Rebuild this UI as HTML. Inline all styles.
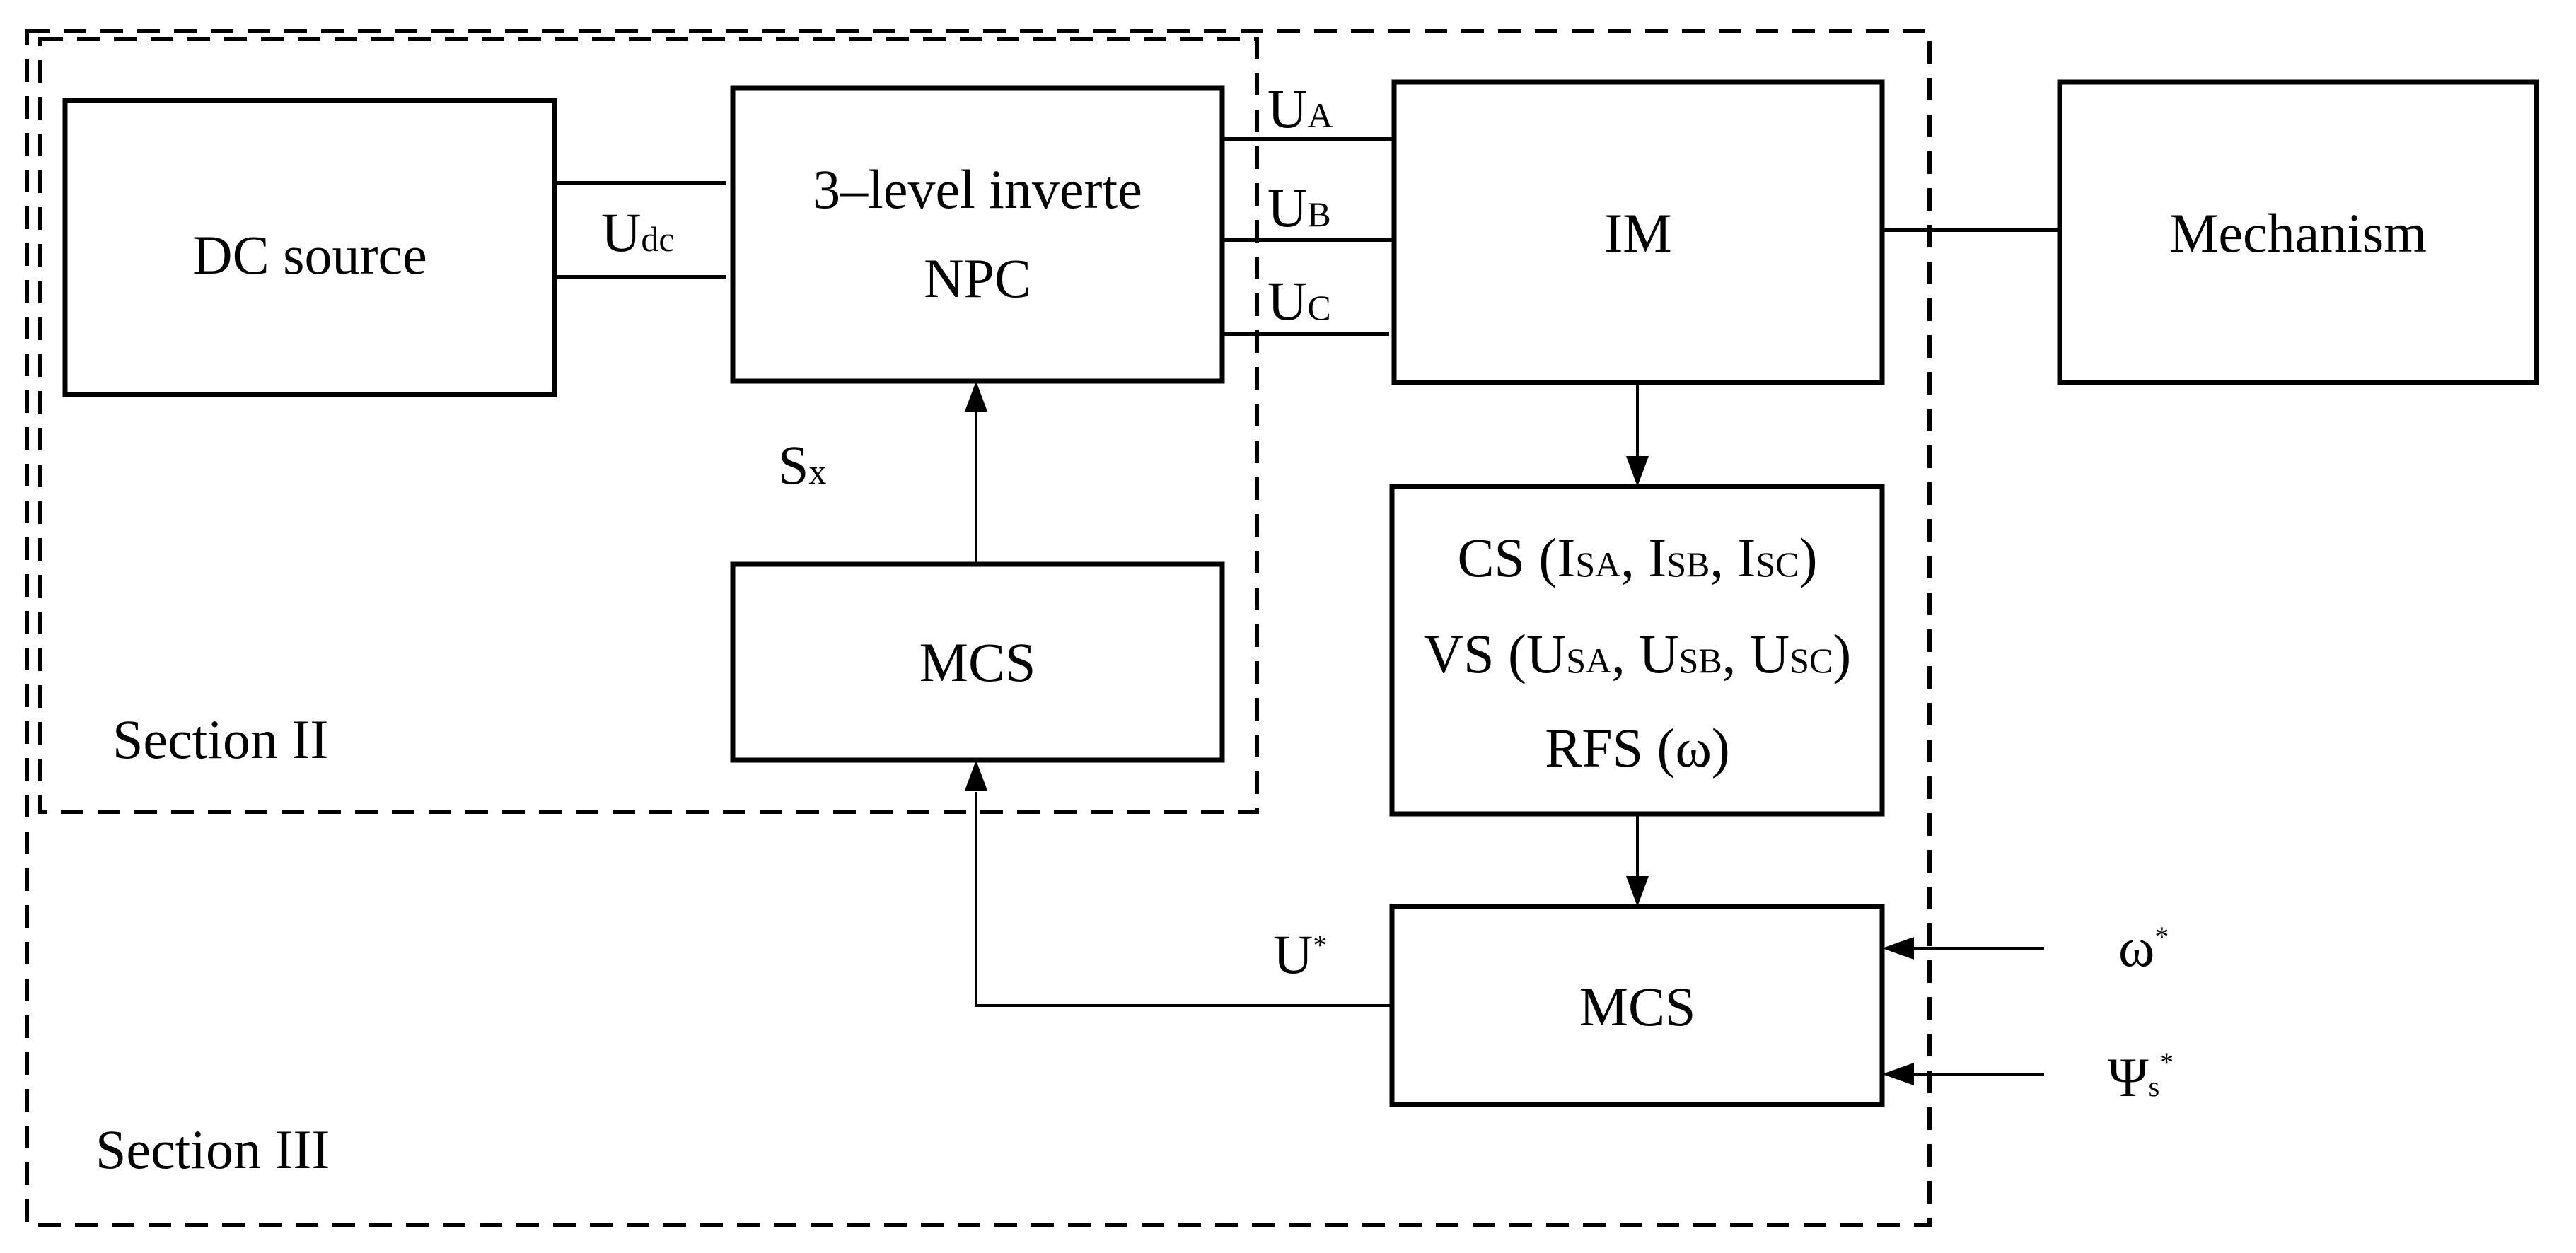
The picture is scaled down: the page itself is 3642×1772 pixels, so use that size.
<!DOCTYPE html>
<html><head><meta charset="utf-8"><style>html,body{margin:0;padding:0;background:#fff}svg{display:block}</style></head>
<body>
<svg width="3642" height="1772" viewBox="0 0 3642 1772" xmlns="http://www.w3.org/2000/svg" font-family="Liberation Serif, serif" font-size="78" fill="#000">
<g fill="none" stroke="#000" stroke-width="6" stroke-dasharray="32,20">
<rect x="38" y="44" width="2690" height="1688"/>
<rect x="57" y="55" width="1720" height="1093"/>
</g>
<g fill="none" stroke="#000" stroke-width="7">
<rect x="92" y="142" width="692" height="416"/>
<rect x="1036" y="124" width="692" height="415"/>
<rect x="1036" y="798" width="692" height="277"/>
<rect x="1971" y="116" width="690" height="425"/>
<rect x="2912" y="116" width="674" height="425"/>
<rect x="1968" y="688" width="693" height="463"/>
<rect x="1968" y="1282" width="693" height="280"/>
</g>
<g fill="none" stroke="#000" stroke-width="6">
<line x1="784" y1="259" x2="1027" y2="259"/>
<line x1="784" y1="392" x2="1027" y2="392"/>
<line x1="1728" y1="197" x2="1968" y2="197"/>
<line x1="1728" y1="339" x2="1968" y2="339"/>
<line x1="1728" y1="472" x2="1964" y2="472"/>
<line x1="2661" y1="325" x2="2912" y2="325"/>
</g>
<g fill="none" stroke="#000" stroke-width="4">
<line x1="1380" y1="798" x2="1380" y2="580"/>
<line x1="2315" y1="541" x2="2315" y2="645"/>
<line x1="2315" y1="1151" x2="2315" y2="1240"/>
<polyline points="1968,1422 1380,1422 1380,1120"/>
<line x1="2890" y1="1341" x2="2705" y2="1341"/>
<line x1="2890" y1="1519" x2="2705" y2="1519"/>
</g>
<g fill="#000">
<polygon points="1380,539 1364,582 1396,582"/>
<polygon points="2315,688 2299,645 2331,645"/>
<polygon points="2315,1282 2299,1239 2331,1239"/>
<polygon points="1380,1075 1364,1118 1396,1118"/>
<polygon points="2661,1341 2706,1325 2706,1357"/>
<polygon points="2661,1519 2706,1503 2706,1535"/>
</g>
<g text-anchor="middle">
<text x="438" y="387">DC source</text>
<text x="1382" y="294">3–level inverte</text>
<text x="1382" y="420">NPC</text>
<text x="1382" y="963">MCS</text>
<text x="2316" y="356">IM</text>
<text x="3249" y="356">Mechanism</text>
<text x="2315" y="815">CS (I<tspan font-size="50">SA</tspan>, I<tspan font-size="50">SB</tspan>, I<tspan font-size="50">SC</tspan>)</text>
<text x="2315" y="951">VS (U<tspan font-size="50">SA</tspan>, U<tspan font-size="50">SB</tspan>, U<tspan font-size="50">SC</tspan>)</text>
<text x="2315" y="1084">RFS (ω)</text>
<text x="2315" y="1450">MCS</text>
</g>
<text x="850" y="355">U<tspan font-size="50">dc</tspan></text>
<text x="1792" y="180">U<tspan font-size="50">A</tspan></text>
<text x="1792" y="320">U<tspan font-size="50">B</tspan></text>
<text x="1792" y="452">U<tspan font-size="50">C</tspan></text>
<text x="1100" y="684">S<tspan font-size="50">x</tspan></text>
<text x="159" y="1072">Section II</text>
<text x="135" y="1652">Section III</text>
<text x="1800" y="1376">U<tspan font-size="40" dy="-26">*</tspan></text>
<text x="2995" y="1366">ω<tspan font-size="40" dy="-28">*</tspan></text>
<text x="2980" y="1550">Ψ<tspan font-size="40">s</tspan><tspan font-size="40" dy="-34">*</tspan></text>
</svg>
</body></html>
